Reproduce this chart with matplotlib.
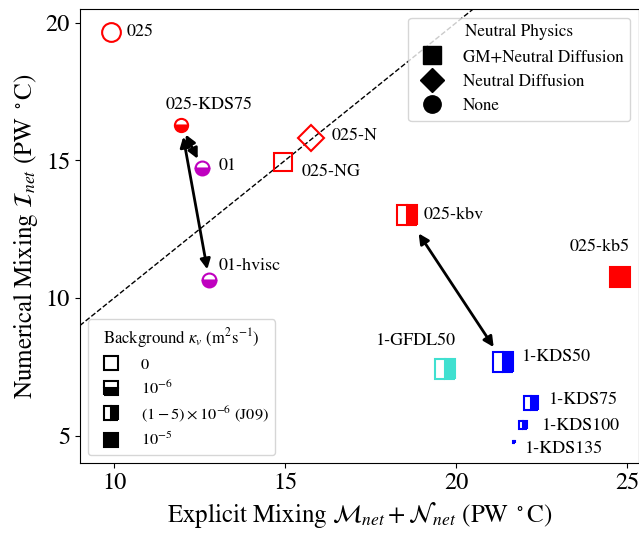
import matplotlib
matplotlib.use('Agg')
import matplotlib.pyplot as plt
from matplotlib.lines import Line2D
from matplotlib.patches import FancyArrowPatch

plt.rcParams['font.family'] = 'STIXGeneral'
plt.rcParams['mathtext.fontset'] = 'stix'

# experiments: explicit mixing (x) vs numerical mixing (y), PW degC
names = ['025', '025-KDS75', '01', '01-hvisc', '025-N', '025-NG', '025-kbv',
         '025-kb5', '1-GFDL50', '1-KDS50', '1-KDS75', '1-KDS100', '1-KDS135']
explicit = [9.91, 11.96, 12.58, 12.78, 15.77, 14.95, 18.56,
            24.8, 19.67, 21.38, 22.18, 21.97, 21.69]
numerical = [19.66, 16.28, 14.72, 10.67, 15.8, 14.93, 13.0,
             10.75, 7.42, 7.69, 6.2, 5.37, 4.78]

# pairs of experiments joined by double arrows
arrow_pairs = [('025-KDS75', '01'), ('025-KDS75', '01-hvisc'), ('025-kbv', '1-KDS50')]

# styling per experiment
colors = ['red', 'red', 'm', 'm', 'red', 'red', 'red',
          'red', 'turquoise', 'blue', 'blue', 'blue', 'blue']
markers = ['o', 'o', 'o', 'o', 'D', 's', 's', 's', 's', 's', 's', 's', 's']
fills = ['none', 'bottom', 'bottom', 'bottom', 'none', 'none', 'right',
         'full', 'right', 'right', 'right', 'right', 'right']
sizes = [13.5, 9.5, 10, 10, 13.5, 13, 14.3, 14.3, 14.3, 14.3, 9.5, 6, 1.5]
# label offsets (points) and horizontal alignment
offsets = [(11.5, 0), (20, 14.5), (12, 1.5), (7, 9.5), (14.4, 2), (13, -7), (12, 0.7),
           (-15, 21.6), (-21, 20), (13.7, 3), (13.3, 1.8), (13.4, -0.7), (8, -5)]
aligns = ['left', 'center', 'left', 'left', 'left', 'left', 'left',
          'center', 'center', 'left', 'left', 'left', 'left']
arrow_shrink = [(7.5, 7.5), (8.5, 7.5), (15.5, 12.5)]

fig = plt.figure(figsize=(6.39, 5.33), dpi=100)
ax = fig.add_axes([0.125, 0.131, 0.875, 0.852])

ax.axline((0, 0), slope=1, color='k', ls='--', lw=1)

for i, name in enumerate(names):
    ax.plot(explicit[i], numerical[i], marker=markers[i], ms=sizes[i],
            color=colors[i], mec=colors[i], mfc=colors[i], mfcalt='white',
            fillstyle=fills[i], mew=1.5, ls='none', zorder=3)
    ax.annotate(name, (explicit[i], numerical[i]), xytext=offsets[i],
                textcoords='offset points', ha=aligns[i], va='center', fontsize=13)

for (a, b), (sa, sb) in zip(arrow_pairs, arrow_shrink):
    ia, ib = names.index(a), names.index(b)
    arr = FancyArrowPatch((explicit[ia], numerical[ia]), (explicit[ib], numerical[ib]),
                          arrowstyle='<|-|>,head_length=0.4,head_width=0.2',
                          color='k', lw=2, mutation_scale=15,
                          shrinkA=sa, shrinkB=sb, zorder=4)
    ax.add_patch(arr)

ax.set_xlim(9, 25.35)
ax.set_ylim(4, 20.5)
ax.set_xticks([10, 15, 20, 25])
ax.set_yticks([5, 10, 15, 20])
ax.tick_params(labelsize=17.5)
ax.set_xlabel(r'Explicit Mixing $\mathcal{M}_{net}+\mathcal{N}_{net}$ (PW $^\circ$C)', fontsize=18)
ax.set_ylabel(r'Numerical Mixing $\mathcal{I}_{net}$ (PW $^\circ$C)', fontsize=18)

phys_handles = [Line2D([], [], marker=m, color='k', ls='none', ms=12.5)
                for m in ['s', 'D', 'o']]
leg1 = ax.legend(phys_handles, ['GM+Neutral Diffusion', 'Neutral Diffusion', 'None'],
                 title='Neutral Physics', loc='upper right', fontsize=12.3, title_fontsize=12.3)
ax.add_artist(leg1)

kappa_handles = [Line2D([], [], marker='s', color='k', mec='k', mfc='k', mfcalt='white',
                        fillstyle=f, mew=1.5, ls='none', ms=10.7)
                 for f in ['none', 'bottom', 'right', 'full']]
ax.legend(kappa_handles, ['0', r'$10^{-6}$', r'$(1-5)\times10^{-6}$ (J09)', r'$10^{-5}$'],
          title=r'Background $\kappa_v$ (m$^2$s$^{-1}$)', loc='lower left',
          fontsize=11.8, title_fontsize=12, labelspacing=0.45)

fig.savefig('out.png', dpi=100)
